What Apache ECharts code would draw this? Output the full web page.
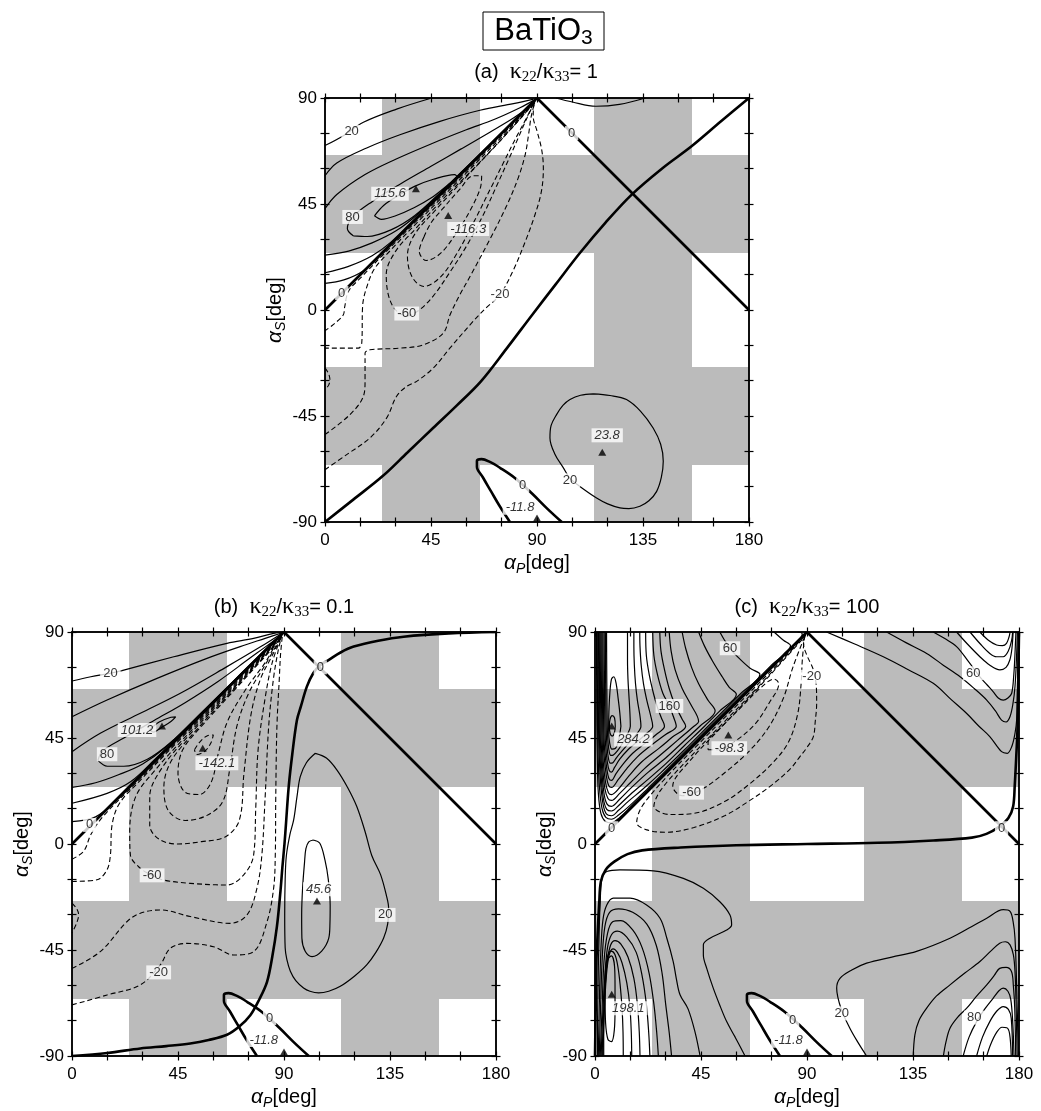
<!DOCTYPE html>
<html><head><meta charset="utf-8">
<script src="https://cdn.jsdelivr.net/npm/echarts@6/dist/echarts.min.js"></script>
<style>html,body{margin:0;padding:0;background:#fff}#chart{width:1041px;height:1111px}</style>
</head><body><div id="chart"></div>
<script>
const FONT = "'Liberation Sans', Arial, Helvetica, sans-serif";
const xLabelValues = [0, 45, 90, 135, 180];
const yLabelValues = [-90, -45, 0, 45, 90];
const grayCols = [[24.2, 65.8], [114.2, 155.8]];
const grayRows = [[24.2, 65.8], [-65.8, -24.2]];

// ---------- panel (a) ----------
const a_zeroDiag = [[0,0],[90,90]];
const a_zeroAnti = [[90,90],[180,0]];
const a_zeroCurve = [[0,-90],[12,-80.5],[24.5,-70.5],[35,-60.5],[46,-50],[56,-40.5],[66.2,-30.3],[77,-16.5],[88,-2],[98,11],[108.2,24.2],[119,37],[130.2,49],[143,60],[155.6,69.5],[168,80],[180,90]];
const zeroU = [[78.5,-90],[74,-83],[70.5,-77],[67,-71],[64.5,-66.5],[64.5,-64],[66.5,-63.3],[70,-64.5],[74.3,-67],[80.6,-71.3],[88,-78],[94,-84],[100.5,-90]];
const a_p20 = [[0,69.8],[7.8,74],[16.3,79.7],[30.4,85.3],[44.6,89.8]];
const a_p20b = [[0,11.3],[8,12.8],[16,16.5],[24,23.5],[32,31.8],[45,45.2],[60,60.2],[75,75.2],[88.5,88.6]];
const a_p40 = [[0,57],[5,62.4],[17.7,68.8],[31.8,74.4],[48.8,80.1],[65.8,84.8],[80,87.6],[88.5,89.5]];
const a_p40b = [[0,15.8],[10,18.5],[20,23],[28,28.8],[38,38.6],[55,55.4],[72,72.3],[88.5,88.7]];
const a_p60 = [[0,43],[5,49],[17,57.5],[30,64],[45,70.5],[60,76.5],[72,81],[83,86],[89,89.2]];
const a_p60b = [[0,23.3],[10,25],[20,28.5],[30,33.5],[40,41.2],[55,55.7],[72,72.4],[89,89.1]];
const a_p80 = [[12,31.5],[9.5,34.5],[11.7,39.5],[20,46],[32,53.5],[45,61],[58,68.5],[70,75.5],[80,81.5],[87,86.5],[89,88.8],[85,84.6],[75,74.9],[62,62.3],[50,50.8],[38,40],[28,34],[18,31.2],[12,31.5]];
const a_p100 = [[21,40],[25,44.5],[31,48.5],[38,52.5],[46,55.5],[55,57.5],[56,56.6],[52,53],[45,47.5],[38,43.5],[30,40],[24,38.5],[21,40]];
const a_topArc = [[98,90],[105,88.3],[115,86.5],[125,87.3],[136,90]];
const a_r20 = [[113.9,-35.6],[121,-36.3],[128,-38],[134,-43],[139.3,-50.1],[142.5,-57],[143.6,-64.2],[142.8,-71],[140.8,-77],[137.5,-81],[133.7,-83.3],[129,-84.3],[125.2,-84],[120,-82.3],[115.3,-79.8],[108.2,-74.9],[104,-71.5],[101.2,-67],[97.5,-61],[95.5,-54.3],[96,-49],[98.3,-44.4],[101,-40.5],[104,-38],[108.5,-36.2],[113.9,-35.6]];
const a_n20 = [[0,-67.8],[9.2,-61.4],[19.1,-54.3],[26.2,-45.8],[30.4,-36.6],[34.7,-32.4],[38.9,-30.3],[46,-24.6],[53.1,-16.1],[62.9,-4.8],[68.5,1],[74.3,6.5],[80,17],[85,29],[89,40],[91.8,50],[92.7,60],[92,68],[90,76],[88.4,82.2],[88.6,86.5],[89.6,89.4]];
const a_n20b = [[89.4,89.1],[80,79.2],[60,59],[40,39],[25,23.8],[15,13.5],[10,8],[8.3,1],[7.8,-2],[3.5,-6.2],[0,-8.8]];
const a_n40 = [[0,-52.9],[10.6,-44.4],[16.3,-36.6],[17,-30.3],[17,-18.3],[19.1,-16.9],[31.8,-16.2],[41.7,-14.8],[50.2,-9.8],[53.1,-2],[57,6],[62,15],[70,30],[77,44],[82,56],[85,66],[86.5,75],[87.5,82],[89.2,88.8]];
const a_n40b = [[89,88.5],[80,78.6],[60,58.2],[40,38],[28,25.5],[21,17.5],[17.5,9],[16,2],[15.6,-14],[14.1,-16.2],[0,-16.2]];
const a_n60 = [[89,88.3],[80,78],[65,62],[50,47],[38,34],[30,25],[26,15],[27,6],[30,0],[34.7,-2.5],[40,0],[46,6],[53,16],[60,27],[67,40],[73,53],[78,64],[82,73],[85.5,81],[89,88.3]];
const a_n80 = [[88.5,87.5],[75,72.5],[60,56.5],[47,42.5],[38,32],[35,23],[37,14],[42,10],[49,14],[56,24],[63,37],[70,51],[76,63],[81,73],[85,80.5],[88.5,87.5]];
const a_n100 = [[42,31],[40,25],[43,21],[49,24],[56,33],[62,43],[66,52],[66.5,57],[63,57],[57,51],[50,43],[45,37],[42,31]];
const a_nBump = [[0,-24.6],[1.5,-27],[2.1,-29.6],[1.5,-32],[0,-33.8]];
const a_labels = [[11.3,75.6,'20',0],[11.7,39.5,'80',0],[27.6,49.3,'115.6',1],[60.8,34.4,'-116.3',1],[7.1,7.2,'0',0],[34.7,-1.5,'-60',0],[74.3,6.5,'-20',0],[104.7,75.1,'0',0],[119.8,-53.2,'23.8',1],[104,-72.3,'20',0],[83.9,-74.4,'0',0],[82.8,-84,'-11.8',1]];
const a_marks = [[38.6,51.5],[52.3,40.1],[117.7,-60.4],[90,-88.3]];

// ---------- panel (b) ----------
const b_zeroCurve = [[0,-90],[15,-88.7],[29,-86.8],[40,-85.8],[50.2,-84.7],[58,-83.2],[65.8,-81],[71,-77.5],[75.7,-72.7],[79.5,-66],[82.8,-58.5],[85,-48],[87,-35],[88.5,-20],[89.3,-10],[90.2,0],[90.8,8],[92,24.4],[93.5,38],[95.5,52.6],[97.2,58.5],[99.7,66.8],[102.4,72.5],[105.4,76],[108.9,78.1],[114,81.3],[119.6,83.8],[130,86.3],[140.8,88],[160,89.4],[180,90]];
const b_p20 = [[0,69.2],[8,71],[16.3,72.5],[21.2,73.6],[43.2,79.5],[65.8,85.2],[77.1,87.3],[85.6,89.4],[89.5,89.9]];
const b_p20b = [[0,9.5],[10,11.5],[20,19.5],[30,29.5],[50,49.8],[70,69.9],[89,89]];
const b_p40 = [[0,54],[14.9,61.1],[36.1,70.3],[57.3,78.8],[71.4,83.8],[82,87.3],[89.3,89.7]];
const b_p40b = [[0,17.3],[14.9,21.5],[25,26.5],[35,35.8],[55,55.4],[75,75.2],[89,89.1]];
const b_p60 = [[0,39.2],[12,47],[29,55.5],[46,64],[65.8,75.3],[80,83.7],[89.2,89.5]];
const b_p60b = [[0,24],[10,26],[20,29.5],[30,34],[40,41.3],[55,55.8],[72,72.5],[89,89.2]];
const b_p80 = [[11,35.5],[13,39.5],[22,45],[35,52.5],[48,60],[62,69],[75,78.5],[85,85.8],[89,89],[84,84.5],[70,70.6],[55,55.8],[42,43.2],[32,36],[22,33],[15,33],[11,35.5]];
const b_p100 = [[33,48.6],[37,51.8],[42,53.8],[44,54],[42,52],[38,49.5],[34.5,47.5],[33,48.6]];
const b_n20 = [[0,-68.3],[14.9,-64.1],[29,-59.8],[37.5,-51.3],[41.7,-44.3],[48.8,-42.2],[60.1,-43.6],[68.6,-47.1],[77.1,-45.7],[82.8,-33],[85.6,-18.8],[86.3,-4.7],[86.5,20],[87,50],[88,70],[88.5,80],[89.3,88.5]];
const b_n20b = [[89.2,88.6],[70,69],[45,44],[25,23.8],[13,11.5],[8,4],[5,-3],[0,-6.5]];
const b_n40 = [[0,-52.8],[12,-45.7],[23.3,-33],[29,-29.4],[37.5,-28],[50.2,-30.8],[67.2,-33.7],[74.3,-30.1],[78.5,-18.8],[80.6,-4.7],[82,20],[83.5,50],[85.5,70],[87.5,82],[89,88.3]];
const b_n40b = [[89,88.2],[70,68.5],[45,43.5],[28,26],[20,17],[17,8],[16.3,-4.7],[14.9,-10.9],[10.6,-15.2],[0,-15.9]];
const b_n60 = [[88.8,87.8],[70,68],[50,47.5],[35,31],[27,20],[24.5,5],[24.8,-4.7],[29,-10.3],[34,-13.3],[38.9,-15.3],[50.2,-16.7],[65.8,-17.4],[72.9,-13.1],[77.1,-4.7],[78,15],[79,40],[82,62],[85,77],[88.8,87.8]];
const b_n80 = [[88.5,87.3],[70,67.5],[50,46.5],[38,32],[33,20],[33,8],[37,2],[45,0],[55,1],[65,3],[71,10],[73,30],[76,55],[80,70],[85,80],[88.5,87.3]];
const b_n100 = [[88,86.5],[70,67],[52,47.5],[42,35],[39,24],[41,14],[48,10],[57,12],[64,18],[67,32],[70,50],[75,64],[82,76],[88,86.5]];
const b_n120 = [[86,84],[70,66.5],[55,50],[47,40],[45,30],[48,22],[54,21],[59,26],[62,38],[66,52],[74,66],[82,77],[86,84]];
const b_n140 = [[52,40],[54,43],[57.5,46],[60,46.3],[59,43],[56.5,39.5],[53,38],[52,40]];
const b_nBump = [[0,-25.1],[2,-27.5],[2.8,-30.1],[2,-33.5],[0,-37.7]];
const b_r20 = [[103.3,38.5],[108,36.5],[112.5,31.4],[117,24],[120.9,15.9],[124.5,5],[127.3,-5],[131,-13],[133.5,-22],[134.4,-27.2],[134,-34],[132.3,-39.9],[129,-46],[125.2,-51.2],[120,-56],[113.9,-60.4],[109,-62.5],[104.7,-63.2],[101,-62.5],[98.3,-61.1],[95,-58],[92.7,-54],[91.2,-49],[90.5,-44.1],[90.3,-30],[90.5,-15],[91,-5],[92.5,4],[94.1,10.2],[95.5,20],[96.9,28.6],[99.5,34.5],[103.3,38.5]];
const b_r40 = [[102.4,1.7],[105.2,0.3],[107.4,-6.8],[108.8,-15],[109.6,-26],[109.5,-34],[109,-40],[106,-45.5],[101.9,-47.8],[99,-45.5],[97.6,-40],[97.5,-30],[97.9,-18.6],[98.7,-8],[99.3,-2],[100.5,0.9],[102.4,1.7]];
const b_labels = [[16.3,72.5,'20',0],[27.6,48.4,'101.2',1],[14.9,38.1,'80',0],[61.5,34.3,'-142.1',1],[7.5,8.1,'0',0],[105.4,75,'0',0],[34,-13.3,'-60',0],[36.8,-54.5,'-20',0],[104.7,-19.2,'45.6',1],[133,-30.1,'20',0],[83.9,-73.9,'0',0],[81.4,-83.2,'-11.8',1]];
const b_marks = [[38.2,50.1],[55.5,40.6],[104,-24.2],[90,-88.3]];

// ---------- panel (c) ----------
const c_zeroCurve = [[0,-90],[0.3,-70],[0.6,-50],[1.1,-38.5],[1.8,-25],[2.5,-15.9],[4.5,-11],[8.2,-7.5],[13.8,-4.3],[20,-2.7],[36.4,-1.5],[60,-0.5],[90,0],[120,0.5],[143.6,1.5],[160,2.7],[166.2,4.3],[171.8,7.5],[175.5,11],[177.5,15.9],[178.2,25],[178.9,38.5],[179.4,50],[179.7,70],[180,90]];
const c_u20 = [[86,90],[88,89.2],[80,80.4],[65,65.4],[49.6,50],[35,35.4],[22,22.5],[15,15.6],[10.5,11.3],[7,9],[4.5,9.5],[2.5,13],[1.4,22],[1,35],[0.8,50],[0.7,70],[0.6,90]];
const c_u40 = [[76,90],[80,86.5],[83,84.2],[75,76],[62,63],[49,50],[35,36],[22,23.2],[15,16.5],[10,12.3],[7,10.5],[4.6,11.3],[3,15],[1.9,24],[1.3,38],[1.1,50],[1,70],[0.9,90]];
const c_u60 = [[53,90],[55,86.5],[57.3,83.1],[61,79],[66,74.5],[70,72],[62,64],[55,57],[48,50],[38,40],[28,30.3],[20,23],[14,18],[10,14.3],[7,12],[4.8,12.8],[3.4,17],[2.3,27],[1.7,40],[1.5,50],[1.3,70],[1.2,90]];
const c_u80 = [[44,90],[46.5,84],[50,77.5],[54,71],[57,66.5],[60,63.5],[53,56.5],[46.5,50],[38,41.8],[30,34],[22,27],[15,21],[10.5,16.8],[7,14],[5,14.7],[3.6,19],[2.6,29],[2,41],[1.8,50],[1.6,70],[1.5,90]];
const c_u100 = [[37,90],[38.5,83],[41,75],[44,68],[48,61],[51,56.5],[44.5,50],[37,43],[30,36.5],[22,30],[15,23.5],[10.5,19],[7,16],[5.2,16.8],[3.9,21],[2.9,31],[2.3,43],[2.1,50],[1.9,70],[1.8,90]];
const c_u120 = [[31.5,90],[32.3,82],[34,74],[37,66],[40.5,59.5],[44,52],[42,50],[35,44],[28,38],[21,32],[15,26],[10.5,21.5],[7,18.5],[5.5,19.3],[4.2,23.5],[3.2,33],[2.6,44],[2.5,50],[2.3,70],[2.2,90]];
const c_u140 = [[27.5,90],[28,82],[29.5,74],[31.5,66],[34,59],[37,53],[38.5,50],[33,45.5],[27,40.5],[20,35],[14.5,29],[10.5,24],[7,21],[5.7,21.8],[4.5,26],[3.5,35],[3,45],[2.9,50],[2.7,70],[2.6,90]];
const c_u160 = [[24.5,90],[25,80],[26.5,72],[28.8,64],[31.6,58.6],[33.3,54],[34.5,50],[30,46.5],[24,42],[18,37],[13.5,32],[10,27.5],[7,24],[5.8,24.8],[4.8,29],[3.8,38],[3.4,46],[3.3,50],[3.1,70],[3,90]];
const c_u180 = [[21.5,90],[21.8,80],[23,72],[24.8,64],[26.5,58],[28.2,53.5],[29.5,50],[26,46.5],[21,42.5],[16,38.5],[12,34],[9,30],[7,27],[5.9,27.8],[5,32],[4.1,40],[3.8,46],[3.7,50],[3.5,70],[3.4,90]];
const c_u200 = [[19,90],[19.1,84],[19.6,76],[20.6,68],[22,61],[23.5,55],[24.5,50],[22,47],[18,43.5],[14,40],[10.5,36],[8.3,32.5],[7,30.5],[6,31.3],[5.2,35],[4.5,42],[4.2,50],[4,70],[3.9,90]];
const c_u220 = [[16.5,90],[16.5,84],[16.7,76],[17.2,68],[18,61],[19,55],[19.5,50],[17.5,46.5],[14.5,43],[11.5,39.5],[9,36.5],[7.6,34.5],[6.5,34.3],[5.6,37],[5,43],[4.7,50],[4.5,70],[4.4,90]];
const c_u240 = [[13.8,90],[13.8,78],[14,70],[14.4,63],[14.8,56],[15,50],[13.5,46],[11.5,42.5],[9.5,39.5],[7.8,37.8],[6.7,37.6],[5.9,40],[5.4,45],[5.2,50],[5,70],[4.9,90]];
const c_u260 = [[11,50],[10.5,56],[9.8,62],[9,68],[8,71],[7,70],[6.3,64],[5.9,56],[5.8,48],[6.2,43],[7.2,40.3],[8.6,40.5],[10,44],[11,50]];
const c_u280 = [[8.6,50],[8.3,53.5],[7.3,54.5],[6.4,53],[6.1,50],[6.4,47],[7.3,45.8],[8.2,47],[8.6,50]];
const c_un20 = [[89.5,89],[88.5,85],[90,80],[92.7,73.9],[94,66],[94.1,59.7],[93.5,52],[92.7,45.6],[90,41],[87,37.1],[83,32],[75,25],[65,18],[55,12],[42,7],[30,5],[22,6],[17.7,9],[20,16],[30,28],[45,43.5],[60,58.6],[75,73.8],[89.5,89]];
const c_un40 = [[89,88.5],[88,78],[87.5,68],[86,55],[82,43],[75,34],[65,25],[55,18],[42,13],[32,12.5],[25,16],[28,23],[40,36.5],[55,52],[70,67.5],[89,88.5]];
const c_un60 = [[89,88],[84,75],[80,62],[74,50],[66,40],[56,31],[45,23],[37,20.5],[33,24.5],[40,35],[55,51],[70,67],[89,88]];
const c_un80 = [[48,40],[52,40],[60,44],[68,51],[74,60],[78,68],[76,70],[70,66],[62,58],[54,50],[48,43],[48,40]];
const c_ur20 = [[98.3,90],[110,85],[122.4,79.5],[133,74],[143.6,68.2],[151,61.5],[157.7,55.5],[163,50],[167.6,45.6],[172.6,39.2],[175,38.5],[176.9,41.3],[178.3,47],[179,52.6],[179.4,70],[179.7,90]];
const c_ur40 = [[123.8,90],[132,85.5],[140.8,80.9],[148,75.8],[155,71],[161,66],[166.3,61.1],[170,56.5],[172.6,52.6],[174.5,51.8],[176.2,54.1],[177.5,60],[178.3,66.8],[178.9,78],[179.3,90]];
const c_ur60 = [[143.6,90],[148.5,87.2],[153.5,83.8],[158.5,77.5],[163.4,71],[166.5,67.5],[169,64.7],[171.2,62],[173.3,61.1],[175.3,62],[176.9,64],[177.8,72],[178.3,80.9],[178.7,90]];
const c_ur80 = [[153.5,90],[158,85],[163.4,79.5],[167.5,76],[171.9,73.9],[174.5,75],[176.1,78.1],[177,83],[177.5,90]];
const c_ur100 = [[159.2,90],[163.5,85],[167.6,80.9],[170.5,79.5],[173.3,79.5],[175.5,82],[176.9,86.6],[177.3,90]];
const c_ur120 = [[163.4,90],[167,86.5],[170.5,84.5],[173,84.2],[174.7,85.2],[175.8,88],[176.2,90]];
const c_lr20 = [[115.3,-90],[111.5,-84],[108.2,-78.2],[104.5,-70],[102.6,-61.2],[104,-57],[109,-53.5],[115.3,-50.6],[126,-48],[136.5,-45.6],[150.7,-40],[160,-35],[166.3,-31.5],[173.3,-27.9],[176.2,-28.6],[177.5,-33],[178.3,-40],[179,-60],[179.7,-90]];
const c_lr40 = [[135.1,-90],[135.8,-81],[137.5,-75],[140.8,-69.7],[145,-64.5],[150.7,-59.8],[157,-54.8],[163.4,-49.9],[168,-45.5],[171.8,-42.1],[174.2,-41.5],[176.2,-42.8],[177.6,-47],[178.3,-54.1],[178.8,-70],[179.2,-90]];
const c_lr60 = [[147.9,-90],[149,-84],[150.7,-78.2],[154,-73.5],[157.8,-69.7],[162,-64.6],[166.3,-59.8],[169.5,-55.8],[171.8,-52.8],[174.5,-52.4],[176.8,-54.1],[177.6,-60],[178.2,-70],[178.6,-90]];
const c_lr80 = [[156.3,-90],[158.8,-82],[162,-75.4],[165.5,-70],[169,-65.5],[171.5,-62.3],[173.3,-61.2],[175.3,-62.5],[176.5,-66],[177.3,-75],[177.9,-90]];
const c_lr100 = [[162,-90],[164.5,-82],[167.6,-75.4],[170.5,-71],[173.3,-69],[175.5,-70.2],[176.7,-74],[177.3,-90]];
const c_lr120 = [[166.3,-90],[168,-85],[170.5,-80],[172.8,-77.8],[174.8,-78],[176,-80.5],[176.7,-90]];
const c_ll20 = [[63.7,-90],[59.5,-82],[55.9,-75.4],[52.8,-68],[50.2,-61.2],[47.5,-53],[46,-47.1],[46,-42.8],[48.8,-40],[55.9,-36.5],[58,-34.4],[57.3,-30.1],[53,-24.5],[46,-18.8],[37.5,-14.6],[24.8,-11.4],[10.6,-11],[5,-11.7],[3,-14.5],[2.3,-22],[1.7,-40],[1.2,-65],[1,-90]];
const c_ll40 = [[44.6,-90],[42.5,-80],[39.5,-70],[36.1,-64],[34.5,-57],[33.2,-49.9],[30.5,-40],[27.6,-31.5],[21.9,-25.9],[14.9,-23],[7.8,-23],[5,-25.9],[3.4,-32],[2.5,-45],[1.9,-65],[1.4,-90]];
const c_ll60 = [[32.5,-90],[31.5,-80],[30,-68],[28.5,-55],[26,-43],[22,-34],[16,-29],[10,-27.5],[6.2,-29],[4.2,-35],[3.1,-48],[2.4,-68],[1.8,-90]];
const c_ll80 = [[26.9,-90],[26.2,-80],[25,-68],[23,-55],[20,-44],[16,-36.5],[11,-32.5],[7.5,-33],[5.3,-38],[3.8,-50],[3,-70],[2.2,-90]];
const c_ll100 = [[23.3,-90],[22.8,-80],[21.8,-68],[20,-56],[17.5,-46],[13.5,-39.5],[9.5,-37],[7,-38.5],[5.3,-44],[4.2,-56],[3.3,-72],[2.6,-90]];
const c_ll120 = [[19.1,-90],[18.8,-80],[18,-68],[16.5,-57],[14,-48],[11,-42.5],[8.5,-41],[6.6,-43],[5.2,-50],[4.2,-62],[3.5,-76],[3,-90]];
const c_ll140 = [[15.6,-90],[15.4,-80],[14.8,-69],[13.5,-59],[11.5,-50.5],[9.5,-46],[7.7,-44.5],[6.2,-46.5],[5.1,-53],[4.3,-64],[3.7,-78],[3.3,-90]];
const c_ll160 = [[12,-90],[11.9,-80],[11.5,-70],[10.7,-60],[9.7,-52],[8.4,-46.8],[6.8,-45.5],[5.4,-47.5],[4.4,-54],[3.9,-66],[3.7,-78],[3.7,-90]];
const c_ll180 = [[8.5,-60],[8.3,-52],[7,-47.5],[5.5,-49],[4.6,-56],[4.3,-66],[4.5,-76],[5.5,-83],[7,-83.9],[8.2,-79],[8.5,-70],[8.5,-60]];
const c_labels = [[16.3,44.4,'284.2',1],[31.6,58.6,'160',0],[57.3,83.1,'60',0],[57,40.6,'-98.3',1],[41,21.8,'-60',0],[7.1,6.7,'0',0],[92,71,'-20',0],[160.6,72.5,'60',0],[172.6,6.7,'0',0],[14.1,-69.7,'198.1',1],[104.7,-71.9,'20',0],[161,-73.7,'80',0],[83.9,-74.7,'0',0],[82.1,-83.5,'-11.8',1]];
const c_marks = [[7.1,50.1],[56.6,46.3],[7.1,-63.8],[90,-88.3]];

const panels = [
  { title: '(a)', ratio: '1', labels: a_labels, marks: a_marks, lines: [
    ['thick', a_zeroDiag], ['thick', a_zeroAnti], ['thick', a_zeroCurve], ['thick', zeroU],
    ['solid', a_p20], ['solid', a_p20b], ['solid', a_p40], ['solid', a_p40b], ['solid', a_p60], ['solid', a_p60b],
    ['solid', a_p80], ['solid', a_p100], ['solid', a_topArc], ['solid', a_r20],
    ['dash', a_n20], ['dash', a_n20b], ['dash', a_n40], ['dash', a_n40b], ['dash', a_n60], ['dash', a_n80], ['dash', a_n100], ['dash', a_nBump]
  ]},
  { title: '(b)', ratio: '0.1', labels: b_labels, marks: b_marks, lines: [
    ['thick', a_zeroDiag], ['thick', a_zeroAnti], ['thick', b_zeroCurve], ['thick', zeroU],
    ['solid', b_p20], ['solid', b_p20b], ['solid', b_p40], ['solid', b_p40b], ['solid', b_p60], ['solid', b_p60b],
    ['solid', b_p80], ['solid', b_p100], ['solid', b_r20], ['solid', b_r40],
    ['dash', b_n20], ['dash', b_n20b], ['dash', b_n40], ['dash', b_n40b], ['dash', b_n60], ['dash', b_n80], ['dash', b_n100], ['dash', b_n120], ['dash', b_n140], ['dash', b_nBump]
  ]},
  { title: '(c)', ratio: '100', labels: c_labels, marks: c_marks, lines: [
    ['thick', a_zeroDiag], ['thick', a_zeroAnti], ['thick', c_zeroCurve], ['thick', zeroU],
    ['solid', c_u20], ['solid', c_u40], ['solid', c_u60], ['solid', c_u80], ['solid', c_u100], ['solid', c_u120], ['solid', c_u140],
    ['solid', c_u160], ['solid', c_u180], ['solid', c_u200], ['solid', c_u220], ['solid', c_u240], ['solid', c_u260], ['solid', c_u280],
    ['dash', c_un20], ['dash', c_un40], ['dash', c_un60], ['dash', c_un80],
    ['solid', c_ur20], ['solid', c_ur40], ['solid', c_ur60], ['solid', c_ur80], ['solid', c_ur100], ['solid', c_ur120],
    ['solid', c_lr20], ['solid', c_lr40], ['solid', c_lr60], ['solid', c_lr80], ['solid', c_lr100], ['solid', c_lr120],
    ['solid', c_ll20], ['solid', c_ll40], ['solid', c_ll60], ['solid', c_ll80], ['solid', c_ll100], ['solid', c_ll120], ['solid', c_ll140], ['solid', c_ll160], ['solid', c_ll180]
  ]}
];

const layout = [{ left: 325, top: 98 }, { left: 72, top: 632 }, { left: 595, top: 632 }];
const SIZE = 424;
const lineStyles = {
  thick: { color: '#000', width: 2.6, type: 'solid' },
  solid: { color: '#000', width: 1.2, type: 'solid' },
  dash: { color: '#000', width: 1.1, type: [5, 3] }
};

const grids = layout.map(l => ({ left: l.left, top: l.top, width: SIZE, height: SIZE }));
const xAxes = [], yAxes = [];
const axisNameRich = {
  a: { fontFamily: FONT, fontStyle: 'italic', fontSize: 21, lineHeight: 26, color: '#000' },
  s: { fontFamily: FONT, fontStyle: 'italic', fontSize: 14, lineHeight: 16, verticalAlign: 'bottom', color: '#000' },
  d: { fontFamily: FONT, fontSize: 20, lineHeight: 26, color: '#000' }
};
layout.forEach((l, g) => {
  const common = (isX) => ({
    type: 'value', gridIndex: g, min: isX ? 0 : -90, max: isX ? 180 : 90, interval: 15, z: 10,
    axisLine: { show: true, onZero: false, lineStyle: { color: '#000', width: 1.5 } },
    splitLine: { show: false }, axisLabel: { show: false },
    axisTick: { show: true, length: 4.5, lineStyle: { color: '#000', width: 1.2 } }
  });
  const xpos = ['bottom', 'bottom', 'top', 'top'];
  const ypos = ['left', 'left', 'right', 'right'];
  for (let k = 0; k < 4; k++) {
    const xa = common(true);
    xa.position = xpos[k];
    xa.axisTick.inside = (k % 2 === 1);
    const ya = common(false);
    ya.position = ypos[k];
    ya.axisTick.inside = (k % 2 === 1);
    if (k === 0) {
      xa.axisLabel = { show: true, margin: 10, fontSize: 17, fontFamily: FONT, color: '#000',
        formatter: v => xLabelValues.indexOf(v) >= 0 ? String(v) : '' };
      xa.name = '{a|α}{s|P}{d|[deg]}';
      xa.nameLocation = 'middle';
      xa.nameGap = 28;
      xa.nameTextStyle = { rich: axisNameRich };
      ya.axisLabel = { show: true, margin: 8, fontSize: 17, fontFamily: FONT, color: '#000',
        formatter: v => yLabelValues.indexOf(v) >= 0 ? String(v) : '' };
      ya.name = '{a|α}{s|S}{d|[deg]}';
      ya.nameLocation = 'middle';
      ya.nameGap = 34;
      ya.nameRotate = 90;
      ya.nameTextStyle = { rich: axisNameRich };
    }
    xAxes.push(xa); yAxes.push(ya);
  }
});

const series = [];
panels.forEach((p, g) => {
  const areas = [];
  grayCols.forEach(c => areas.push([{ coord: [c[0], -90] }, { coord: [c[1], 90] }]));
  grayRows.forEach(r => areas.push([{ coord: [0, r[0]] }, { coord: [180, r[1]] }]));
  series.push({ type: 'line', xAxisIndex: 4 * g, yAxisIndex: 4 * g, data: [[0, -90]], showSymbol: false, silent: true, z: 1,
    lineStyle: { width: 0 }, markArea: { silent: true, itemStyle: { color: '#bbbbbb', borderWidth: 0 }, data: areas } });
  p.lines.forEach(([st, pts]) => {
    series.push({ type: 'line', xAxisIndex: 4 * g, yAxisIndex: 4 * g, data: pts, showSymbol: false, silent: true,
      smooth: st === 'thick' && pts.length === 2 ? false : 0.35, z: st === 'thick' ? 4 : 3,
      lineStyle: lineStyles[st], animation: false });
  });
  series.push({ type: 'scatter', xAxisIndex: 4 * g, yAxisIndex: 4 * g, symbol: 'triangle', symbolSize: [8, 7], z: 6,
    itemStyle: { color: '#000' }, silent: true, data: p.marks });
  series.push({ type: 'scatter', xAxisIndex: 4 * g, yAxisIndex: 4 * g, symbolSize: 1, z: 7, silent: true,
    itemStyle: { color: 'transparent' },
    data: p.labels.map(d => ({ value: [d[0], d[1]], name: d[2],
      label: { fontStyle: d[3] ? 'italic' : 'normal' } })),
    label: { show: true, position: 'inside', formatter: '{b}', color: '#000', fontSize: 13, fontFamily: FONT,
      backgroundColor: '#fff', padding: [1, 3, 0, 3] } });
});

const SERIF = "'Liberation Serif', 'DejaVu Serif', serif";
const titleRich = {
  p: { fontFamily: FONT, fontSize: 20, lineHeight: 26, fill: '#000' },
  k: { fontFamily: SERIF, fontSize: 24, lineHeight: 26, fill: '#000' },
  s: { fontFamily: SERIF, fontSize: 15, lineHeight: 15, verticalAlign: 'bottom', fill: '#000' }
};
const graphics = [];
const titleCenters = [[536, 72], [284, 607], [807, 607]];
panels.forEach((p, g) => {
  graphics.push({ type: 'text', x: titleCenters[g][0], y: titleCenters[g][1], z: 20,
    style: { text: '{p|' + p.title + '  }{k|κ}{s|22}{p|/}{k|κ}{s|33}{p|= ' + p.ratio + '}', rich: titleRich,
      align: 'center', verticalAlign: 'middle' } });
});
graphics.push({ type: 'rect', shape: { x: 483, y: 12, width: 121, height: 38 }, z: 20,
  style: { fill: '#fff', stroke: '#000', lineWidth: 1 } });
graphics.push({ type: 'text', x: 543.5, y: 31, z: 21,
  style: { text: '{m|BaTiO}{s|3}', align: 'center', verticalAlign: 'middle',
    rich: { m: { fontFamily: FONT, fontSize: 31, lineHeight: 36, fill: '#000' },
            s: { fontFamily: FONT, fontSize: 21, lineHeight: 22, verticalAlign: 'bottom', fill: '#000' } } } });

const chart = echarts.init(document.getElementById('chart'), null, { renderer: 'canvas' });
chart.setOption({ animation: false, backgroundColor: '#fff', grid: grids, xAxis: xAxes, yAxis: yAxes, series: series, graphic: graphics });
</script></body></html>
